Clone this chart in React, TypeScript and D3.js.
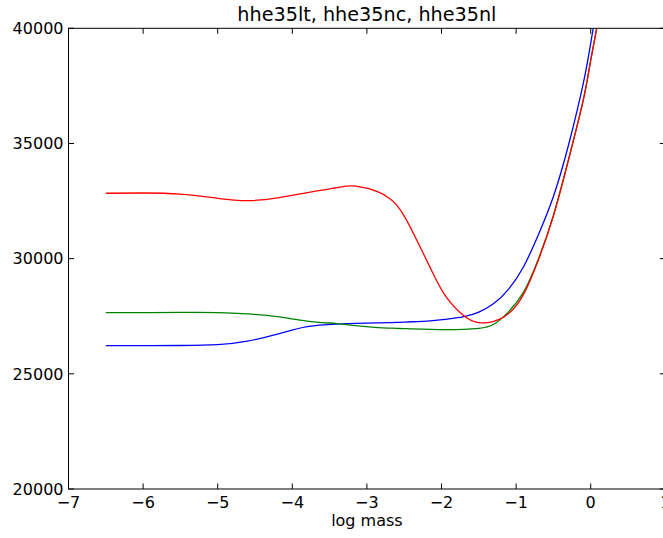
import { useEffect, useRef } from 'react';
import * as d3 from 'd3';

const logMass = [-6.5, -6, -5.5, -5, -4.6, -4.2, -3.8, -3.4, -3.15, -2.85, -2.7, -2.6, -2.5, -2.4, -2.15, -1.95, -1.7, -1.5, -1.3, -1.1, -0.9, -0.7, -0.5, -0.3, -0.1, 0, 0.1, 0.2];

const hhe35lt = [26220, 26220, 26230, 26270, 26420, 26720, 27050, 27160, 27190, 27210, 27222, 27230, 27245, 27260, 27300, 27360, 27480, 27680, 28050, 28680, 29650, 31050, 32700, 34900, 37600, 39350, 41300, 43500];
const hhe35nc = [27660, 27660, 27665, 27660, 27600, 27480, 27290, 27180, 27090, 27010, 26985, 26970, 26960, 26950, 26930, 26920, 26930, 26970, 27150, 27700, 28550, 30000, 31880, 34280, 36890, 38620, 40370, 42520];
const hhe35nl = [32840, 32850, 32800, 32620, 32520, 32640, 32870, 33080, 33150, 32900, 32620, 32320, 31850, 31250, 29600, 28400, 27520, 27220, 27280, 27620, 28450, 29950, 31850, 34250, 36870, 38600, 40350, 42500];

const xTicks = [-7, -6, -5, -4, -3, -2, -1, 0, 1];
const yTicks = [20000, 25000, 30000, 35000, 40000];

const series = [
  { name: 'hhe35lt', values: hhe35lt, color: '#0000ff' },
  { name: 'hhe35nc', values: hhe35nc, color: '#008000' },
  { name: 'hhe35nl', values: hhe35nl, color: '#ff0000' },
];

export default function App() {
  const svgRef = useRef<SVGSVGElement>(null);

  useEffect(() => {
    document.body.style.margin = '0';
    if (!svgRef.current) return;
    const svg = d3.select(svgRef.current);
    svg.selectAll('*').remove();

    const left = 68.5, right = 665.3, top = 28.3, bottom = 489;
    const font = 'DejaVu Sans, Bitstream Vera Sans, sans-serif';

    const x = d3.scaleLinear().domain([-7, 1]).range([left, right]);
    const y = d3.scaleLinear().domain([20000, 40000]).range([bottom, top]);

    svg.append('defs').append('clipPath').attr('id', 'plot-clip')
      .append('rect')
      .attr('x', left).attr('y', top)
      .attr('width', right - left).attr('height', bottom - top);

    const line = d3.line<number>()
      .x((_, i) => x(logMass[i]))
      .y(d => y(d))
      .curve(d3.curveNatural);

    const plot = svg.append('g').attr('clip-path', 'url(#plot-clip)');
    series.forEach(s => {
      plot.append('path')
        .attr('d', line(s.values))
        .attr('fill', 'none')
        .attr('stroke', s.color)
        .attr('stroke-width', 1.3);
    });

    // frame
    svg.append('rect')
      .attr('x', left).attr('y', top)
      .attr('width', right - left).attr('height', bottom - top)
      .attr('fill', 'none')
      .attr('stroke', '#000')
      .attr('stroke-width', 1);

    const tickLen = 5.5;

    // x ticks (inward, top and bottom)
    xTicks.forEach(t => {
      const px = x(t);
      svg.append('line')
        .attr('x1', px).attr('x2', px)
        .attr('y1', bottom).attr('y2', bottom - tickLen)
        .attr('stroke', '#000');
      svg.append('line')
        .attr('x1', px).attr('x2', px)
        .attr('y1', top).attr('y2', top + tickLen)
        .attr('stroke', '#000');
      svg.append('text')
        .attr('x', px)
        .attr('y', bottom + 19)
        .attr('text-anchor', 'middle')
        .attr('font-family', font)
        .attr('font-size', 16)
        .text(t < 0 ? `\u2212${Math.abs(t)}` : `${t}`);
    });

    // y ticks (inward, left and right)
    yTicks.forEach(t => {
      const py = y(t);
      svg.append('line')
        .attr('x1', left).attr('x2', left + tickLen)
        .attr('y1', py).attr('y2', py)
        .attr('stroke', '#000');
      svg.append('line')
        .attr('x1', right).attr('x2', right - tickLen)
        .attr('y1', py).attr('y2', py)
        .attr('stroke', '#000');
      svg.append('text')
        .attr('x', left - 5)
        .attr('y', py + 5.8)
        .attr('text-anchor', 'end')
        .attr('font-family', font)
        .attr('font-size', 16)
        .text(t);
    });

    svg.append('text')
      .attr('x', (left + right) / 2)
      .attr('y', 21)
      .attr('text-anchor', 'middle')
      .attr('font-family', font)
      .attr('font-size', 19.2)
      .text(series.map(s => s.name).join(', '));

    svg.append('text')
      .attr('x', (left + right) / 2)
      .attr('y', 526)
      .attr('text-anchor', 'middle')
      .attr('font-family', font)
      .attr('font-size', 16)
      .text('log mass');
  }, []);

  return (
    <svg
      ref={svgRef}
      width="663"
      height="538"
      style={{ display: 'block', background: '#fff' }}
    />
  );
}
